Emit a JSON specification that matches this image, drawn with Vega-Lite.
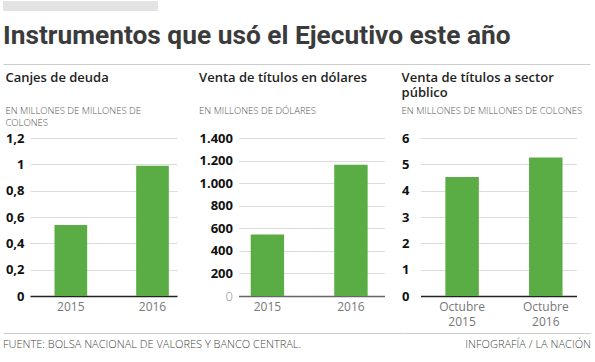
{
  "$schema": "https://vega.github.io/schema/vega-lite/v6.json",
  "padding": {"left": 3, "top": 1, "right": 0, "bottom": 0},
  "background": "white",
  "spacing": 0,
  "config": {
    "view": {"stroke": null},
    "font": "Open Sans",
    "title": {
      "font": "Open Sans",
      "fontSize": 13,
      "fontWeight": 600,
      "color": "#1e1e1e",
      "anchor": "start",
      "frame": "bounds",
      "lineHeight": 15,
      "offset": 5,
      "subtitleFont": "Open Sans",
      "subtitleFontSize": 9.5,
      "subtitleFontWeight": 300,
      "subtitleColor": "#555555",
      "subtitleLineHeight": 11.5,
      "subtitlePadding": 6
    },
    "axisY": {
      "grid": true,
      "gridColor": "#dcdcdc",
      "domain": false,
      "ticks": false,
      "title": null,
      "labelFont": "Open Sans",
      "labelFontSize": 13,
      "labelFontWeight": "bold",
      "labelColor": "#111111"
    },
    "axisX": {
      "title": null,
      "ticks": false,
      "labelAngle": 0,
      "labelFont": "Open Sans",
      "labelFontSize": 12,
      "labelFontWeight": 400,
      "labelColor": "#777777",
      "labelPadding": 5,
      "domainColor": "#222222",
      "domainWidth": 1.5
    }
  },
  "vconcat": [
    {
      "width": 155, "height": 10,
      "view": {"fill": "#e3e3e3", "stroke": null},
      "data": {"values": []},
      "mark": {"type": "text", "text": ""}
    },
    {
      "width": 10, "height": 11,
      "data": {"values": []},
      "mark": {"type": "text", "text": ""}
    },
    {
      "width": 587, "height": 1,
      "data": {"values": []},
      "mark": {"type": "point"},
      "encoding": {
        "x": {"field": "v", "type": "quantitative", "scale": {"domain": [0, 1]},
          "axis": {"orient": "top", "domain": true, "domainColor": "#cccccc", "domainWidth": 1, "labels": false, "ticks": false, "grid": false, "title": null}}
      },
      "title": {
        "text": "Instrumentos que usó el Ejecutivo este año",
        "font": "Roboto",
        "fontSize": 26.3,
        "fontWeight": "bold",
        "color": "#3b3b3b",
        "anchor": "start",
        "frame": "group",
        "offset": 15
      }
    },
    {
      "width": 10, "height": 7,
      "data": {"values": []},
      "mark": {"type": "text", "text": ""}
    },
    {
      "spacing": 0,
      "hconcat": [
        {
          "width": 2, "height": 1,
          "data": {"values": []},
          "mark": {"type": "text", "text": ""}
        },
        {
          "spacing": 21.5,
          "hconcat": [
            {
              "width": 147, "height": 158,
              "title": {"text": ["Canjes de deuda", " "], "subtitle": ["EN MILLONES DE MILLONES DE", "COLONES"]},
              "data": {"values": [{"periodo": "2015", "valor": 0.54}, {"periodo": "2016", "valor": 0.99}]},
              "mark": {"type": "bar", "color": "#5aac44"},
              "encoding": {
                "x": {"field": "periodo", "type": "nominal", "scale": {"paddingInner": 0.6, "paddingOuter": 0.2, "align": 0.75}},
                "y": {"field": "valor", "type": "quantitative", "scale": {"domain": [0, 1.2]},
                  "axis": {"values": [0, 0.2, 0.4, 0.6, 0.8, 1, 1.2], "format": "~g", "labelExpr": "replace(datum.label, '.', ',')", "labelPadding": 6}}
              }
            },
            {
              "spacing": 17,
              "hconcat": [
                {
                  "width": 146, "height": 158,
                  "title": {"text": ["Venta de títulos en dólares", " "], "subtitle": ["EN MILLONES DE DÓLARES", " "]},
                  "data": {"values": [{"periodo": "2015", "valor": 545}, {"periodo": "2016", "valor": 1163}]},
                  "mark": {"type": "bar", "color": "#5aac44"},
                  "encoding": {
                    "x": {"field": "periodo", "type": "nominal", "scale": {"paddingInner": 0.6, "paddingOuter": 0.174, "align": 0.42},
                      "axis": {"domainColor": "#666666"}},
                    "y": {"field": "valor", "type": "quantitative", "scale": {"domain": [0, 1400]},
                      "axis": {"values": [0, 200, 400, 600, 800, 1000, 1200, 1400], "format": ",d", "labelExpr": "replace(datum.label, ',', '.')", "labelPadding": 6,
                        "labelColor": {"condition": {"test": "datum.value === 0", "value": "#888888"}, "value": "#111111"},
                        "labelFontWeight": {"condition": {"test": "datum.value === 0", "value": 300}, "value": "bold"}}}
                  }
                },
                {
                  "width": 156, "height": 158,
                  "title": {"text": ["Venta de títulos a sector", "público"], "subtitle": ["EN MILLONES DE MILLONES DE COLONES", " "]},
                  "data": {"values": [{"periodo": "Octubre 2015", "valor": 4.52}, {"periodo": "Octubre 2016", "valor": 5.26}]},
                  "mark": {"type": "bar", "color": "#5aac44"},
                  "encoding": {
                    "x": {"field": "periodo", "type": "nominal", "scale": {"paddingInner": 0.6, "paddingOuter": 0.232, "align": 0.64},
                      "axis": {"labelExpr": "split(datum.label, ' ')", "labelLineHeight": 15}},
                    "y": {"field": "valor", "type": "quantitative", "scale": {"domain": [0, 6]},
                      "axis": {"values": [0, 1, 2, 3, 4, 5, 6], "labelPadding": 11.5}}
                  }
                }
              ]
            }
          ]
        }
      ]
    },
    {
      "width": 10, "height": 6,
      "data": {"values": []},
      "mark": {"type": "text", "text": ""}
    },
    {
      "spacing": 0,
      "hconcat": [
        {
          "width": 400, "height": 1,
          "data": {"values": []},
          "mark": {"type": "point"},
          "encoding": {
            "x": {"field": "v", "type": "quantitative", "scale": {"domain": [0, 1]},
              "axis": {"orient": "top", "domain": true, "domainColor": "#cccccc", "domainWidth": 1, "labels": false, "ticks": false, "grid": false, "title": null}}
          },
          "title": {"text": "FUENTE: BOLSA NACIONAL DE VALORES Y BANCO CENTRAL.", "orient": "bottom", "anchor": "start", "frame": "group",
            "font": "Open Sans", "fontSize": 11, "fontWeight": 300, "color": "#444444", "offset": 5}
        },
        {
          "width": 188, "height": 1,
          "data": {"values": []},
          "mark": {"type": "point"},
          "encoding": {
            "x": {"field": "v", "type": "quantitative", "scale": {"domain": [0, 1]},
              "axis": {"orient": "top", "domain": true, "domainColor": "#cccccc", "domainWidth": 1, "labels": false, "ticks": false, "grid": false, "title": null}}
          },
          "title": {"text": "INFOGRAFÍA / LA NACIÓN", "orient": "bottom", "anchor": "end", "frame": "group",
            "font": "Open Sans", "fontSize": 11, "fontWeight": 300, "color": "#444444", "offset": 5}
        }
      ]
    }
  ]
}
